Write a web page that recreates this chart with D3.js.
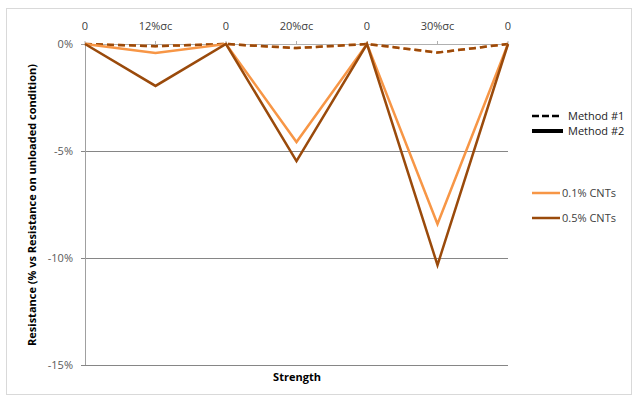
<!DOCTYPE html>
<html><head><meta charset="utf-8">
<script src="https://cdn.jsdelivr.net/npm/d3@7"></script>
<style>body{margin:0;background:#fff}svg{display:block}</style>
</head><body>
<script>
const categories = ["0", "12%σc", "0", "20%σc", "0", "30%σc", "0"];
const m2_01 = [0, -0.42, 0, -4.58, 0, -8.41, 0];
const m2_05 = [0, -1.96, 0, -5.47, 0, -10.33, 0];
const m1_01 = [0, -0.10, 0, -0.19, 0, -0.40, 0];
const m1_05 = [0, -0.10, 0, -0.19, 0, -0.40, 0];
const yTicks = [0, -5, -10, -15];
const yTickLabels = ["0%", "-5%", "-10%", "-15%"];

const W = 634, H = 396;
const svg = d3.select("body").append("svg").attr("width", W).attr("height", H);
const font = "'Open Sans', 'Liberation Sans', sans-serif";
svg.append("rect").attr("x", 6.5).attr("y", 8.5).attr("width", 625).attr("height", 386)
  .attr("fill", "#fff").attr("stroke", "#d9d9d9");

const x = d3.scalePoint().domain(d3.range(categories.length)).range([85, 508]);
const y = d3.scaleLinear().domain([0, -15]).range([44, 365]);

// gridlines
svg.append("g").selectAll("line").data(yTicks.filter(d => d !== 0)).join("line")
  .attr("x1", 81).attr("x2", 508).attr("y1", d => y(d)).attr("y2", d => y(d))
  .attr("stroke", "#868686").attr("stroke-width", 1).attr("shape-rendering", "crispEdges");
// y axis
svg.append("line").attr("x1", 85).attr("x2", 85).attr("y1", y(0)).attr("y2", y(-15))
  .attr("stroke", "#a0a0a0").attr("shape-rendering", "crispEdges");
svg.append("line").attr("x1", 81).attr("x2", 85).attr("y1", y(0)).attr("y2", y(0))
  .attr("stroke", "#a0a0a0").attr("shape-rendering", "crispEdges");
svg.append("g").selectAll("text").data(yTicks).join("text")
  .attr("x", 73).attr("y", d => y(d) + 4).attr("text-anchor", "end")
  .attr("font-family", font).attr("font-size", 11).attr("fill", "#595959")
  .text((d, i) => yTickLabels[i]);
// x axis (at 0)
svg.append("line").attr("x1", 85).attr("x2", 508).attr("y1", y(0)).attr("y2", y(0))
  .attr("stroke", "#b0b0b0").attr("shape-rendering", "crispEdges");
svg.append("g").selectAll("line").data(d3.range(categories.length)).join("line")
  .attr("x1", d => x(d)).attr("x2", d => x(d)).attr("y1", y(0) - 3).attr("y2", y(0) + 1)
  .attr("stroke", "#b0b0b0");
svg.append("g").selectAll("text").data(categories).join("text")
  .attr("x", (d, i) => x(i)).attr("y", 30).attr("text-anchor", "middle")
  .attr("font-family", font).attr("font-size", 11).attr("fill", "#404040")
  .text(d => d);

// titles
svg.append("text").attr("transform", "translate(36,205) rotate(-90)")
  .attr("text-anchor", "middle").attr("font-family", font).attr("font-weight", "bold")
  .attr("font-size", 11).attr("fill", "#000")
  .text("Resistance (% vs Resistance on unloaded condition)");
svg.append("text").attr("x", 297).attr("y", 381).attr("text-anchor", "middle")
  .attr("font-family", font).attr("font-weight", "bold").attr("font-size", 11).attr("fill", "#000")
  .text("Strength");

const orange = "#F79646", brown = "#9A4A0B";
const line = d3.line().x((d, i) => x(i)).y(d => y(d));
const series = [
  {v: m1_01, c: orange, dash: "7,4"},
  {v: m1_05, c: brown, dash: "7,4"},
  {v: m2_01, c: orange, dash: null},
  {v: m2_05, c: brown, dash: null}
];
svg.append("g").selectAll("path").data(series).join("path")
  .attr("d", d => line(d.v)).attr("fill", "none").attr("stroke", d => d.c)
  .attr("stroke-width", 2.5).attr("stroke-dasharray", d => d.dash)
  .attr("stroke-linejoin", "miter");

// legend
const lg = svg.append("g");
lg.append("line").attr("x1", 532).attr("x2", 562).attr("y1", 116).attr("y2", 116)
  .attr("stroke", "#000").attr("stroke-width", 2.5).attr("stroke-dasharray", "7,3");
lg.append("text").attr("x", 568).attr("y", 120).attr("font-family", font).attr("font-size", 11)
  .attr("fill", "#222").text("Method #1");
lg.append("line").attr("x1", 532).attr("x2", 563).attr("y1", 131).attr("y2", 131)
  .attr("stroke", "#000").attr("stroke-width", 4);
lg.append("text").attr("x", 568).attr("y", 135).attr("font-family", font).attr("font-size", 11)
  .attr("fill", "#222").text("Method #2");
lg.append("line").attr("x1", 532).attr("x2", 560).attr("y1", 193).attr("y2", 193)
  .attr("stroke", orange).attr("stroke-width", 2.5);
lg.append("text").attr("x", 562).attr("y", 197).attr("font-family", font).attr("font-size", 11)
  .attr("fill", "#404040").text("0.1% CNTs");
lg.append("line").attr("x1", 532).attr("x2", 560).attr("y1", 218).attr("y2", 218)
  .attr("stroke", brown).attr("stroke-width", 2.5);
lg.append("text").attr("x", 562).attr("y", 222).attr("font-family", font).attr("font-size", 11)
  .attr("fill", "#404040").text("0.5% CNTs");
</script>
</body></html>
